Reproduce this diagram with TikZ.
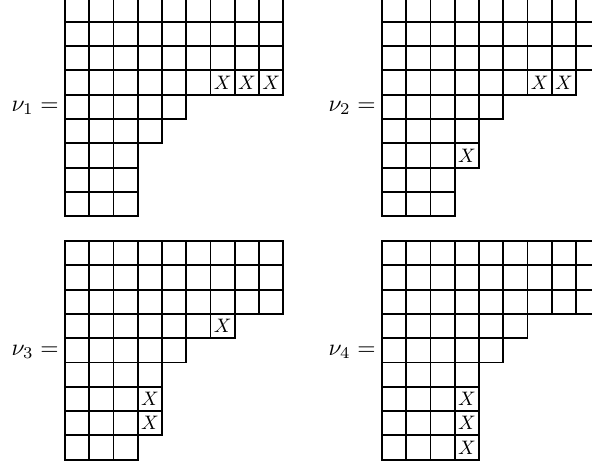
\documentclass[tikz,border=0pt]{standalone}
\newcommand\mydiag[4]{%
  \foreach \L [count=\r] in {#3} {
    \foreach \c in {1,...,\L} {
      \draw[cellline] ({#1+(\c-1)*24.25},{#2+(\r-1)*24.3}) rectangle ++(24.25,24.3);
    }
  }
  \foreach \r/\c in {#4} {
    \node[xlab] at ({#1+(\c-0.5)*24.25},{#2+(\r-0.5)*24.3}) {$X$};
  }
}
\begin{document}
\begin{tikzpicture}[x=1pt,y=-1pt,
  cellline/.style={line width=1.9pt, line cap=rect},
  xlab/.style={scale=1.95, inner sep=0pt},
  eqlab/.style={scale=2.35, anchor=east, inner sep=0pt}]
\useasboundingbox (0,0) rectangle (592,465);
\clip (0,0) rectangle (592,465);
\mydiag{65}{-2.5}{9,9,9,9,5,4,3,3,3}{4/7,4/8,4/9}
\mydiag{382}{-2.5}{9,9,9,8,5,4,4,3,3}{4/7,4/8,7/4}
\mydiag{65}{241}{9,9,9,7,5,4,4,4,3}{4/7,7/4,8/4}
\mydiag{382}{241}{9,9,9,6,5,4,4,4,4}{7/4,8/4,9/4}
\node[eqlab] (n1) at (59,108) {$\nu_1 =$};
\node[eqlab] (n2) at (376,108) {$\nu_2 =$};
\node[eqlab] (n3) at (59,352) {$\nu_3 =$};
\node[eqlab] (n4) at (376,352) {$\nu_4 =$};
\end{tikzpicture}
\end{document}
